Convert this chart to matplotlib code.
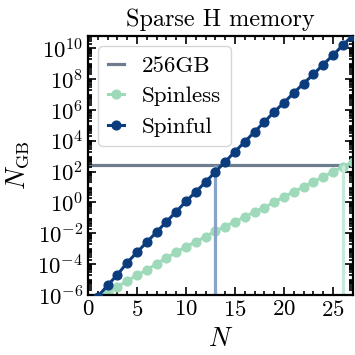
import numpy as np
import matplotlib
matplotlib.use("Agg")
import matplotlib.pyplot as plt
from matplotlib.ticker import LogLocator, MultipleLocator, NullFormatter

plt.rcParams.update({
    "font.family": "serif",
    "font.serif": ["cmr10"],
    "mathtext.fontset": "cm",
    "axes.formatter.use_mathtext": True,
    "font.size": 16,
})

# System size N and memory of the sparse Hamiltonian in GB (log10 values)
n_sites = np.arange(1, 28)
log_mem_spinless = [-6.25, -5.80, -5.46, -5.08, -4.72, -4.38, -3.97, -3.60, -3.22,
                    -2.87, -2.55, -2.22, -1.86, -1.56, -1.25, -0.93, -0.62, -0.33,
                    0.02, 0.36, 0.69, 1.01, 1.34, 1.66, 1.98, 2.32, 2.63]
log_mem_spinful = [-6.10, -5.37, -4.68, -3.90, -3.23, -2.57, -1.92, -1.25, -0.60,
                   0.07, 0.69, 1.32, 1.99, 2.63, 3.30, 3.93, 4.58, 5.22,
                   5.87, 6.47, 7.10, 7.71, 8.30, 8.94, 9.54, 10.19, 10.80]
mem_limit_gb = 256
n_max_spinful = 13
n_max_spinless = 26

mem_spinless = 10.0 ** np.array(log_mem_spinless)
mem_spinful = 10.0 ** np.array(log_mem_spinful)

c_spinful = "#0b3c7d"
c_spinless = "#9edab9"
c_limit = "#6e7c8f"

fig = plt.figure(figsize=(3.55, 3.55), dpi=100)
ax = fig.add_axes([0.248, 0.169, 0.745, 0.730])

ax.axhline(mem_limit_gb, color=c_limit, lw=2.3, label="256GB", zorder=1)
ax.plot(n_sites, mem_spinless, "-o", color=c_spinless, lw=2.2, ms=6.3,
        label="Spinless", zorder=2)
ax.vlines(n_max_spinful, 1e-6, mem_limit_gb, color="#87a3c6", lw=2.3, zorder=2.5)
ax.vlines(n_max_spinless, 1e-6, mem_limit_gb, color="#c8eadb", lw=2.3, zorder=2.5)
ax.plot(n_sites, mem_spinful, "-o", color=c_spinful, lw=2.2, ms=6.3,
        label="Spinful", zorder=3)

ax.set_yscale("log")
ax.set_xlim(0, 27)
ax.set_ylim(1e-6, mem_spinful[-1])
ax.yaxis.set_minor_locator(LogLocator(base=10, subs=np.arange(2, 10), numticks=30))
ax.yaxis.set_minor_formatter(NullFormatter())
ax.set_yticks([10.0 ** k for k in range(-6, 11, 2)])
ax.xaxis.set_major_locator(MultipleLocator(5))
ax.xaxis.set_minor_locator(MultipleLocator(1))

ax.tick_params(which="both", direction="in", top=True, right=True, width=1.2)
ax.tick_params(which="major", length=6)
ax.tick_params(which="minor", length=3)
ax.tick_params(axis="both", labelsize=16.5)
for sp in ax.spines.values():
    sp.set_linewidth(1.6)

ax.set_title("Sparse H memory", fontsize=17.5, pad=7)
ax.set_xlabel(r"$N$", fontsize=19, labelpad=5)
ax.set_ylabel(r"$N_{\mathrm{GB}}$", fontsize=19)

leg = ax.legend(loc="upper left", fontsize=16.6, handlelength=0.7,
                borderaxespad=0.45, framealpha=0.8, handletextpad=0.8,
                labelspacing=0.45, borderpad=0.4)

fig.savefig("out.png", dpi=100)
